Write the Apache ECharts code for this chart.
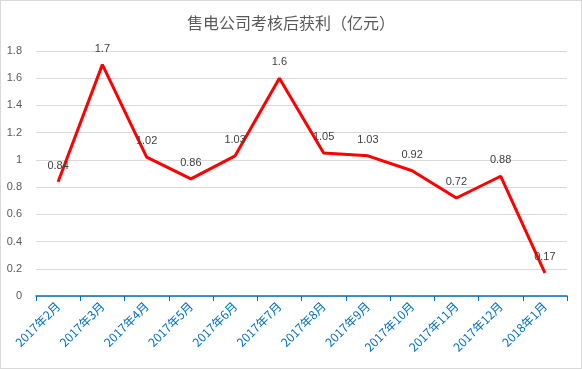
<!DOCTYPE html>
<html><head><meta charset="utf-8">
<script src="https://cdn.jsdelivr.net/npm/echarts@6/dist/echarts.min.js"></script>
<style>html,body{margin:0;padding:0;background:#fff}#c{width:580px;height:367px;border:1px solid #d9d9d9}</style>
</head><body><div id="c"></div>
<script>
var categories = ['2017年2月','2017年3月','2017年4月','2017年5月','2017年6月','2017年7月','2017年8月','2017年9月','2017年10月','2017年11月','2017年12月','2018年1月'];
var profit = [0.84,1.7,1.02,0.86,1.03,1.6,1.05,1.03,0.92,0.72,0.88,0.17];
var yTicks = [0,0.2,0.4,0.6,0.8,1,1.2,1.4,1.6,1.8];
var chart = echarts.init(document.getElementById('c'));
chart.setOption({
  animation:false,
  title:{text:'售电公司考核后获利（亿元）',left:'center',top:9,textStyle:{fontFamily:'Noto Sans CJK SC',fontSize:16,fontWeight:'normal',color:'#595959'}},
  grid:{left:35,right:14,top:50,bottom:72},
  xAxis:{type:'category',data:categories,boundaryGap:true,
    axisLine:{lineStyle:{color:'#0070C0',width:1.5}},
    axisTick:{show:true,alignWithLabel:false,length:5,lineStyle:{color:'#0070C0'}},
    axisLabel:{rotate:45,interval:0,color:'#0070C0',fontSize:12,fontFamily:'Noto Sans CJK SC',margin:8}},
  yAxis:{type:'value',min:0,max:1.8,interval:0.2,
    axisLine:{show:false},axisTick:{show:false},
    splitLine:{lineStyle:{color:'#d9d9d9'}},
    axisLabel:{color:'#595959',fontSize:11,margin:14,fontFamily:'Liberation Sans',formatter:function(v){return yTicks.indexOf(Math.round(v*10)/10)>=0?String(Math.round(v*10)/10):'';}}},
  series:[{type:'line',data:profit,symbol:'circle',symbolSize:1,showSymbol:true,
    itemStyle:{color:'#FF0000'},lineStyle:{color:'#FF0000',width:3},
    label:{show:true,position:'top',distance:10,color:'#404040',fontSize:11,fontFamily:'Liberation Sans'}}]
});
</script></body></html>
